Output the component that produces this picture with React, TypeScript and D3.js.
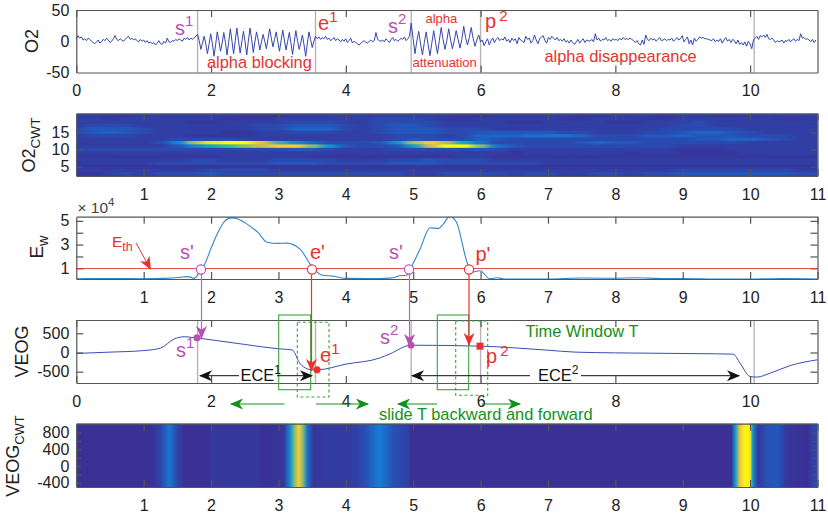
import React, { useEffect, useRef } from 'react';
import * as d3 from 'd3';

// --- panel data ---
const o2SegmentEdges = [0, 1.8, 3.55, 4.97, 6.0, 10.05, 11];
const o2Rest1 = [3, 9, 5, 7, 2, 4, 1, 5, 3, 0, -2, -4, -1, 2, -3, -1, 3, 1, 5, 2, -2, 0, 4, 9, 3, 1, 4, 2, 0, 3, 6, 8, 3, 5, 2, 4, 1, -1, 3, 0, 2, -2, 1, -3, -1, -4, -2, -6, -3, 1, -4, -5, 0, -3, 5, -1, -2, 1, 0, 3, 1, 4, 2, 0, 5, 3, 6, 2, 5, 3, 6, 8];
const o2Alpha1 = [11, 1, -13, -3, 8, -4, -20, -5, 12, -3, -24, -6, 15, 1, -16, -3, 14, -2, -22, -1, 20, 0, -20, 1, 21, 0, -19, -1, 16, -1, -22, 0, 21, 3, -18, -1, 15, 2, -14, -1, 11, 0, -12, 4, 20, 5, -9, 3, 15, -1, -16, 1, 18, 2, -14, 0, 14, -3, -21, -2, 17, 1, -13, -3, 10, -6, -24, -4, 15, 3, -10, 0];
const o2Rest2 = [8, 4, 7, 3, 6, 4, 8, 3, 5, 1, 3, 6, 1, 4, 2, -1, 3, 0, 4, -2, 1, 5, -3, 0, -2, -4, -6, -3, -1, 1, -2, -3, 0, 2, -1, 1, 14, 3, 1, 0, 2, -1, 4, 1, -2, 3, 6, 1, 3, 0, 2, 5, 3, 7, 1, 4, 8];
const o2Alpha2 = [29, 5, -20, 0, 16, -4, -22, -2, 15, -5, -23, -3, 17, -2, -20, 1, 22, 3, -13, 1, 20, 2, -12, 2, 17, 3, -11, 3, 24, 6, -6, 6, 22, 5, -8, 2, 10];
const o2Rest3 = [-1, 2, -7, -1, 4, -6, 1, 5, -2, 3, 6, 1, 4, 2, 7, 0, 3, -2, 5, 1, 4, -4, 6, 2, 0, -2, 8, 3, 5, -3, 1, 10, 2, -4, 4, 7, 9, 1, -3, 6, 3, 8, 5, 2, 6, 1, 3, 0, 4, -1, 1, -3, 2, -2, -5, -1, 3, -3, 1, 4, -2, 2, 1, 0, 3, -1, 12, 2, 5, 0, 3, 2, 6, 1, 3, 0, 4, 2, 3, 1, 5, 2, 6, 3, 4, 3, 5, 3, 1, -2, 1, -4, -6, 2, -5, 10, 3, 1, 5, 2, 4, 0, 3, 6, 1, 2, 4, 1, 3, 2, 5, 0, 3, 6, 2, 4, 9, -1, 3, 7, -4, 2, -6, 5, 0, 3, 7, 5, 6, 4, 4, 3, 2, 1, 4, -1, 2, 0, 4, -3, 2, 6, 0, 3, -2, 3, 1, -4, 2, -5, -2, -6, -1, -8, 0, -4, -12];
const o2Rest4 = [2, 5, 8, 3, 9, 7, 10, 6, 11, 4, 3, 5, 2, -2, 1, -1, 0, 2, -3, 1, 0, 3, -1, 2, 4, 0, 3, 1, 12, 5, 6, 3, 4, 2, -1, 3, -2, 2];

const o2CwtFreqs = [20, 19, 18, 17, 16, 15, 14, 13, 12, 11, 10, 9, 8, 7, 6, 5, 4, 3];
const cwtColumnStep = 0.25;
const o2CwtRows = [
  [2, 2, 1, 1, 2, 2, 2, 2, 2, 2, 1, 1, 1, 2, 2, 2, 2, 2, 2, 2, 2, 2, 2, 1, 1, 2, 2, 2, 2, 2, 1, 1, 2, 2, 2, 1, 2, 2, 1, 1, 2, 2, 2, 2, 2],
  [2, 2, 1, 2, 2, 2, 2, 2, 2, 1, 1, 1, 2, 2, 2, 2, 2, 2, 3, 3, 3, 2, 1, 1, 2, 2, 2, 2, 2, 1, 1, 2, 2, 2, 1, 1, 2, 2, 2, 2, 2, 2, 1, 1, 2],
  [2, 2, 2, 2, 2, 2, 2, 1, 1, 2, 2, 2, 2, 3, 3, 3, 2, 2, 3, 3, 3, 3, 2, 2, 2, 2, 1, 1, 2, 2, 2, 2, 1, 1, 2, 2, 2, 3, 2, 2, 2, 2, 2, 2, 2],
  [2, 3, 3, 3, 2, 2, 2, 2, 2, 2, 2, 3, 3, 4, 4, 4, 3, 2, 3, 4, 4, 3, 2, 2, 2, 2, 2, 2, 2, 2, 2, 2, 2, 2, 2, 2, 3, 3, 2, 2, 2, 2, 2, 2, 2],
  [3, 4, 4, 4, 3, 2, 2, 2, 2, 2, 2, 3, 3, 5, 5, 5, 3, 2, 3, 4, 4, 4, 3, 3, 3, 2, 2, 2, 2, 2, 2, 2, 2, 2, 2, 3, 3, 3, 3, 3, 2, 2, 2, 2, 2],
  [3, 4, 5, 4, 3, 2, 2, 2, 2, 1, 1, 2, 2, 3, 3, 3, 2, 2, 3, 4, 4, 4, 3, 3, 4, 4, 4, 4, 4, 3, 3, 2, 2, 2, 3, 3, 4, 5, 5, 4, 3, 2, 2, 2, 2],
  [2, 3, 3, 3, 2, 2, 2, 1, 1, 1, 1, 2, 2, 2, 2, 2, 2, 2, 2, 3, 3, 3, 2, 3, 5, 5, 5, 6, 6, 6, 5, 3, 3, 3, 4, 4, 5, 4, 4, 4, 3, 3, 3, 2, 2],
  [2, 2, 2, 2, 2, 2, 3, 3, 3, 3, 2, 2, 2, 2, 2, 2, 2, 2, 2, 3, 4, 3, 3, 3, 5, 4, 3, 3, 3, 3, 3, 3, 3, 3, 3, 3, 3, 4, 4, 5, 5, 4, 3, 2, 2],
  [2, 2, 2, 2, 2, 3, 7, 15, 19, 20, 20, 17, 12, 8, 5, 3, 3, 3, 4, 8, 15, 18, 15, 10, 6, 3, 3, 3, 3, 3, 4, 5, 4, 4, 3, 3, 3, 3, 3, 3, 2, 2, 2, 2, 2],
  [2, 2, 2, 2, 2, 2, 4, 7, 10, 12, 14, 16, 18, 18, 14, 9, 4, 3, 3, 4, 9, 16, 20, 20, 14, 6, 4, 3, 3, 3, 3, 3, 3, 3, 3, 3, 2, 2, 2, 2, 2, 2, 2, 2, 2],
  [3, 3, 3, 3, 3, 3, 3, 3, 3, 3, 3, 3, 3, 4, 4, 3, 2, 2, 2, 3, 3, 3, 3, 3, 4, 3, 2, 2, 2, 2, 2, 2, 2, 2, 2, 2, 1, 1, 1, 2, 2, 2, 2, 2, 2],
  [2, 2, 2, 2, 2, 2, 2, 2, 2, 2, 2, 2, 2, 2, 2, 2, 2, 2, 2, 2, 2, 2, 2, 2, 2, 2, 1, 2, 2, 2, 2, 2, 2, 1, 2, 2, 1, 1, 1, 1, 2, 2, 2, 2, 2],
  [1, 1, 1, 1, 1, 1, 1, 1, 1, 2, 2, 2, 2, 2, 1, 1, 1, 1, 1, 1, 1, 1, 1, 2, 2, 1, 1, 1, 1, 1, 1, 1, 1, 1, 1, 1, 1, 1, 1, 1, 1, 1, 1, 1, 1],
  [2, 2, 2, 2, 2, 2, 2, 3, 3, 2, 2, 2, 3, 3, 3, 3, 2, 2, 2, 3, 3, 4, 3, 3, 3, 2, 2, 2, 2, 2, 2, 2, 2, 2, 2, 2, 2, 2, 2, 2, 2, 2, 2, 2, 2],
  [1, 2, 2, 2, 2, 3, 3, 3, 3, 3, 3, 3, 4, 4, 4, 3, 3, 3, 3, 4, 4, 4, 3, 3, 3, 3, 3, 3, 2, 2, 2, 2, 2, 2, 2, 2, 2, 2, 2, 2, 2, 2, 2, 2, 2],
  [1, 1, 1, 1, 1, 1, 1, 1, 1, 1, 1, 1, 1, 1, 1, 1, 1, 1, 1, 1, 1, 1, 1, 1, 1, 1, 1, 1, 1, 1, 1, 1, 1, 1, 1, 1, 1, 1, 1, 1, 1, 1, 1, 1, 1],
  [2, 2, 2, 2, 2, 2, 2, 2, 3, 3, 3, 3, 2, 2, 2, 2, 2, 2, 2, 2, 2, 2, 2, 2, 2, 2, 2, 2, 2, 2, 2, 2, 2, 2, 2, 2, 3, 3, 3, 3, 3, 3, 3, 2, 2],
  [1, 1, 2, 3, 2, 3, 3, 3, 4, 3, 3, 3, 3, 3, 3, 3, 3, 3, 3, 3, 2, 2, 3, 3, 3, 3, 2, 3, 3, 2, 2, 3, 3, 2, 3, 3, 4, 4, 4, 4, 4, 4, 4, 3, 3],
];

const ewTimes = [0, 0.5, 1, 1.3, 1.55, 1.63, 1.7, 1.74, 1.79, 1.85, 1.9, 2, 2.1, 2.2, 2.3, 2.4, 2.5, 2.7, 2.83, 3.0, 3.12, 3.32, 3.49, 3.58, 3.64, 3.81, 4.01, 4.5, 4.7, 4.8, 4.9, 4.97, 5.1, 5.25, 5.37, 5.45, 5.54, 5.64, 5.81, 5.89, 5.99, 6.14, 6.25, 6.35, 7, 7.5, 8, 8.3, 8.7, 9, 9.5, 10, 10.5, 11];
const ewValues = [0.12, 0.14, 0.12, 0.15, 0.25, 0.3, 0.26, 0.15, 0.35, 1, 1.3, 2.7, 4.0, 4.95, 5.25, 5.15, 4.85, 4.0, 3.2, 3.1, 3.12, 2.62, 1.2, 0.65, 0.44, 0.34, 0.15, 0.13, 0.2, 0.38, 0.42, 1.1, 2.6, 4.42, 4.35, 4.75, 5.4, 4.9, 1.35, 0.7, 0.8, 0.12, 0.2, 0.1, 0.1, 0.18, 0.16, 0.2, 0.14, 0.14, 0.1, 0.1, 0.14, 0.1];
const ewThreshold = 0.98;

const veogTimes = [0, 0.5, 1, 1.25, 1.45, 1.6, 1.75, 2, 2.5, 3, 3.2, 3.25, 3.3, 3.4, 3.5, 3.58, 4, 4.5, 4.65, 4.97, 6, 7, 7.4, 8, 9.5, 9.75, 9.85, 10, 10.1, 10.3, 10.6, 11];
const veogValues = [-25, 10, 50, 115, 350, 410, 385, 330, 210, 96, 70, -40, -235, -400, -450, -450, -303, -145, -40, 190, 165, 60, 10, -10, -35, -45, -276, -625, -640, -536, -338, -190];

const veogBandTimes = [0, 1.12, 1.25, 1.38, 1.5, 1.6, 1.95, 2.0, 2.7, 2.75, 3.08, 3.17, 3.24, 3.3, 3.36, 3.43, 3.52, 3.7, 4.05, 4.15, 4.3, 4.5, 4.7, 4.93, 4.97, 9.72, 9.78, 9.85, 9.93, 10.0, 10.04, 10.12, 10.25, 10.4, 10.55, 10.85, 10.95, 11];
const veogBandValues = [0, 0, 0.07, 0.22, 0.07, 0, 0, 0.025, 0.025, 0, 0.02, 0.28, 0.62, 0.88, 0.62, 0.2, 0.02, 0.035, 0.035, 0.05, 0.11, 0.24, 0.11, 0.05, 0, 0, 0.35, 0.85, 1, 0.95, 0.3, 0.02, 0.11, 0.13, 0.02, 0, 0.07, 0.07];

const x2Ticks = [0, 2, 4, 6, 8, 10];
const x1Ticks = [1, 2, 3, 4, 5, 6, 7, 8, 9, 10, 11];
const o2Ticks = [-50, 0, 50];
const o2CwtTicks = [5, 10, 15];
const ewTicks = [1, 2, 3, 4, 5];
const ewLabels = [1, 3, 5];
const veogTicks = [-500, 0, 500];
const veogCwtTicks = [-400, -200, 0, 200, 400, 600, 800];
const veogCwtLabels = [-400, 0, 400, 800];
const stageLines = [1.8, 3.55, 4.97, 6.0, 10.06];

const parula = ['#3a3096', '#2456bb', '#1481d6', '#06a4ca', '#2eb7a4', '#87bf77', '#d1bb59', '#fec832', '#f9fb0e'];

const FONT = '"Liberation Sans", Arial, sans-serif';
const RED = '#e8322f';
const MAGENTA = '#b94fb5';
const GREEN = '#12901c';

export default function App() {
  const ref = useRef<SVGSVGElement>(null);

  useEffect(() => {
    const svg = d3.select(ref.current);
    svg.selectAll('*').remove();

    const left = 76.3, right = 817.5;
    const x = d3.scaleLinear().domain([0, 11]).range([left, right]);
    const parulaColor = d3.scaleLinear<string>()
      .domain(parula.map((_, i) => i / (parula.length - 1)))
      .range(parula);

    const defs = svg.append('defs');
    const addMarker = (id, color) => {
      defs.append('marker')
        .attr('id', id)
        .attr('viewBox', '0 0 12 10')
        .attr('refX', 11).attr('refY', 5)
        .attr('markerWidth', 14).attr('markerHeight', 11)
        .attr('markerUnits', 'userSpaceOnUse')
        .attr('orient', 'auto-start-reverse')
        .append('path')
        .attr('d', 'M0,0L12,5L0,10L3.5,5Z')
        .attr('fill', color);
    };
    addMarker('arrowMagenta', MAGENTA);
    addMarker('arrowRed', RED);
    addMarker('arrowBlack', '#111');
    addMarker('arrowGreen', GREEN);

    const blur = defs.append('filter')
      .attr('id', 'cwtBlur')
      .attr('color-interpolation-filters', 'sRGB')
      .attr('x', '-5%').attr('y', '-10%').attr('width', '110%').attr('height', '120%');
    blur.append('feGaussianBlur').attr('stdDeviation', '5 0.6');

    const drawAxes = (top, bottom, yScale, xTicks, yTicks, yLabels, tickLen, leftLen = tickLen) => {
      const g = svg.append('g');
      const label = (v) => (yLabels.includes(v) ? String(v) : '');
      g.append('g').attr('transform', `translate(0,${bottom})`)
        .call(d3.axisBottom(x).tickValues(xTicks).tickSizeInner(-7).tickSizeOuter(0).tickPadding(12.5).tickFormat(String as any));
      g.append('g').attr('transform', `translate(0,${top})`)
        .call(d3.axisTop(x).tickValues(xTicks).tickSizeInner(-7).tickSizeOuter(0).tickFormat(() => ''));
      g.append('g').attr('transform', `translate(${left},0)`)
        .call(d3.axisLeft(yScale).tickValues(yTicks).tickSizeInner(-leftLen).tickSizeOuter(0).tickPadding(7).tickFormat(label as any));
      g.append('g').attr('transform', `translate(${right},0)`)
        .call(d3.axisRight(yScale).tickValues(yTicks).tickSizeInner(-tickLen).tickSizeOuter(0).tickFormat(() => ''));
      g.selectAll('text').attr('font-family', FONT).attr('font-size', 16).attr('fill', '#222');
      g.selectAll('line,.domain').attr('stroke', '#555').attr('stroke-width', 1.2);
      return g;
    };

    const yTitle = (tx, ty, text, sub = '', size = 18, subScale = 0.76) => {
      const t = svg.append('text')
        .attr('transform', `translate(${tx},${ty}) rotate(-90)`)
        .attr('text-anchor', 'middle')
        .attr('font-family', FONT).attr('font-size', size).attr('fill', '#222');
      t.append('tspan').text(text);
      if (sub) t.append('tspan').attr('dy', 5).attr('font-size', size * subScale).text(sub);
    };

    // text with an optional raised or lowered small part
    const note = (tx, ty, color, size, text, extra = '', extraDy = -8, extraSize = size * 0.72, gap = 0) => {
      const t = svg.append('text').attr('x', tx).attr('y', ty)
        .attr('font-family', FONT).attr('font-size', size).attr('fill', color);
      t.append('tspan').text(text);
      if (extra) t.append('tspan').attr('dx', gap).attr('dy', extraDy).attr('font-size', extraSize).text(extra);
    };

    const stage = (top, bottom, times) => {
      svg.append('g').selectAll('line').data(times).join('line')
        .attr('x1', (d: number) => x(d)).attr('x2', (d: number) => x(d))
        .attr('y1', top).attr('y2', bottom)
        .attr('stroke', '#b5b5b5').attr('stroke-width', 1.4);
    };

    // --- O2 ---
    const o2Y = d3.scaleLinear().domain([-50, 50]).range([72.5, 10]);
    const segments = [o2Rest1, o2Alpha1, o2Rest2, o2Alpha2, o2Rest3, o2Rest4];
    const o2Points = segments.flatMap((vals, s) => {
      const a = o2SegmentEdges[s], b = o2SegmentEdges[s + 1];
      return vals.map((v, i) => [a + (i * (b - a)) / vals.length, v]);
    });
    stage(10, 72.5, stageLines);
    svg.append('path')
      .attr('d', d3.line().x((d) => x(d[0])).y((d) => o2Y(d[1]))(o2Points as any))
      .attr('fill', 'none').attr('stroke', '#3546ab').attr('stroke-width', 1);
    drawAxes(10, 72.5, o2Y, x2Ticks, o2Ticks, o2Ticks, 0);
    yTitle(38, 41, 'O2');

    note(175, 35, MAGENTA, 20, 's', '1', -9, 15);
    note(318, 30, RED, 20, 'e', '1', -8, 15);
    note(388, 33, MAGENTA, 20, 's', '2', -9, 15);
    note(485, 28, RED, 20, 'p', '2', -7, 15, 3);
    note(425.5, 23, RED, 13, 'alpha');
    note(412.5, 66.5, RED, 13, 'attenuation');
    note(207, 67.5, RED, 16.4, 'alpha blocking');
    note(544.5, 61.5, RED, 16.4, 'alpha disappearance');

    // --- O2 CWT ---
    const cwtY = d3.scaleLinear().domain([2.3, 20.5]).range([176, 113.5]);
    const cwtShade = d3.scalePow().exponent(1.3).domain([0, 20]).range([0, 1]);
    svg.append('clipPath').attr('id', 'cwtClip').append('rect')
      .attr('x', left).attr('y', 113.5).attr('width', right - left).attr('height', 62.5);
    const cwtClip = svg.append('g').attr('clip-path', 'url(#cwtClip)');
    cwtClip.append('rect').attr('x', left).attr('y', 113.5).attr('width', right - left).attr('height', 62.5)
      .attr('fill', parulaColor(0.07));
    const cwtCells = o2CwtRows.flatMap((row, r) => row.map((v, c) => ({ t: c * cwtColumnStep, f: o2CwtFreqs[r], v })));
    cwtClip.append('g').attr('filter', 'url(#cwtBlur)')
      .selectAll('rect').data(cwtCells).join('rect')
      .attr('x', (d) => x(d.t - cwtColumnStep / 2))
      .attr('width', x(cwtColumnStep) - x(0) + 0.5)
      .attr('y', (d) => cwtY(d.f + 0.5))
      .attr('height', cwtY(0) - cwtY(1) + 0.5)
      .attr('fill', (d) => parulaColor(cwtShade(d.v)));
    drawAxes(113.5, 176, cwtY, x1Ticks, o2CwtTicks, o2CwtTicks, 7);
    yTitle(35, 145, 'O2', 'CWT');

    // --- Ew ---
    const ewY = d3.scaleLinear().domain([0.1, 5.35]).range([279, 216.7]);
    const clipEw = svg.append('clipPath').attr('id', 'ewClip');
    clipEw.append('rect').attr('x', left).attr('y', 216.7).attr('width', right - left).attr('height', 62.3);
    const ewPoints = ewTimes.map((t, i) => [t, ewValues[i]]);
    svg.append('path')
      .attr('clip-path', 'url(#ewClip)')
      .attr('d', d3.line().curve(d3.curveMonotoneX).x((d) => x(d[0])).y((d) => ewY(d[1]))(ewPoints as any))
      .attr('fill', 'none').attr('stroke', '#2f85c6').attr('stroke-width', 1.1);
    drawAxes(216.7, 279, ewY, x1Ticks, ewTicks, ewLabels, 7);
    svg.append('line')
      .attr('x1', left).attr('x2', right).attr('y1', ewY(ewThreshold)).attr('y2', ewY(ewThreshold))
      .attr('stroke', RED).attr('stroke-width', 0.9);
    yTitle(43, 247, 'E', 'w', 19);

    const t10 = svg.append('text').attr('x', 77.5).attr('y', 213).attr('font-family', FONT).attr('font-size', 15.5).attr('fill', '#444');
    t10.append('tspan').text('× 10');
    t10.append('tspan').attr('dy', -7).attr('font-size', 11.5).text('4');

    note(112, 247, RED, 15.5, 'E', 'th', 4, 12.5);
    svg.append('line').attr('x1', 136).attr('y1', 243).attr('x2', 150.5).attr('y2', 269)
      .attr('stroke', RED).attr('stroke-width', 1).attr('marker-end', 'url(#arrowRed)');
    note(180, 259, MAGENTA, 20, "s'");
    note(310, 259, RED, 20, "e'");
    note(389, 259, MAGENTA, 20, "s'");
    note(475.5, 261, RED, 20, "p'");

    // --- VEOG ---
    const veogY = d3.scaleLinear().domain([-794, 846]).range([383, 320]);
    const veogPoints = veogTimes.map((t, i) => [t, veogValues[i]]);
    stage(320, 383, stageLines);
    svg.append('path')
      .attr('d', d3.line().curve(d3.curveMonotoneX).x((d) => x(d[0])).y((d) => veogY(d[1]))(veogPoints as any))
      .attr('fill', 'none').attr('stroke', '#3a4db3').attr('stroke-width', 1);
    drawAxes(320, 383, veogY, x2Ticks, veogTicks, veogTicks, 7);
    yTitle(28, 351.5, 'VEOG');

    // window boxes
    const boxes = svg.append('g').attr('fill', 'none').attr('stroke', '#3aa53a').attr('stroke-width', 1.1);
    boxes.append('rect').attr('x', 278.7).attr('y', 315).attr('width', 32).attr('height', 74.7);
    boxes.append('rect').attr('x', 297.3).attr('y', 322.3).attr('width', 31.7).attr('height', 74.7).attr('stroke-dasharray', '3 2.5');
    boxes.append('rect').attr('x', 437.3).attr('y', 315).attr('width', 31.4).attr('height', 74.7);
    boxes.append('rect').attr('x', 455.7).attr('y', 321).attr('width', 32).attr('height', 74.3).attr('stroke-dasharray', '3 2.5');

    // connectors from the Ew crossings down to VEOG
    const link = (lx, y1, y2, color, marker) => svg.append('line')
      .attr('x1', lx).attr('x2', lx).attr('y1', y1).attr('y2', y2)
      .attr('stroke', color).attr('stroke-width', 1.2).attr('marker-end', `url(#${marker})`);
    link(201.5, 274, 338, '#c565c2', 'arrowMagenta');
    link(311.5, 275, 371, RED, 'arrowRed');
    link(409.5, 274, 346, '#c565c2', 'arrowMagenta');
    link(469, 274, 345, RED, 'arrowRed');

    const crossings = [[201, MAGENTA], [312, RED], [409, MAGENTA], [469, RED]];
    svg.append('g').selectAll('circle').data(crossings).join('circle')
      .attr('cx', (d) => d[0]).attr('cy', 269.5).attr('r', 4.6)
      .attr('fill', '#fff').attr('stroke', (d) => d[1]).attr('stroke-width', 1.1);

    // stage points on VEOG
    svg.append('circle').attr('cx', 197).attr('cy', veogY(383)).attr('r', 3.6).attr('fill', MAGENTA);
    svg.append('circle').attr('cx', 317).attr('cy', veogY(-450)).attr('r', 3.6).attr('fill', RED);
    svg.append('circle').attr('cx', 411).attr('cy', veogY(190)).attr('r', 3.4).attr('fill', MAGENTA);
    svg.append('rect').attr('x', 476.5).attr('y', veogY(165) - 3.5).attr('width', 7).attr('height', 7).attr('fill', RED);

    note(176, 356.5, MAGENTA, 20, 's', '1', -9, 15);
    note(320, 361.5, RED, 20, 'e', '1', -8, 15);
    note(380, 344, MAGENTA, 20, 's', '2', -9, 15);
    note(486, 363, RED, 20, 'p', '2', -7, 15, 3);

    // ECE spans
    const span = (x1, x2, head) => svg.append('line')
      .attr('x1', x1).attr('x2', x2).attr('y1', 375.7).attr('y2', 375.7)
      .attr('stroke', '#111').attr('stroke-width', 1)
      .attr(head, 'url(#arrowBlack)');
    span(200, 239, 'marker-start');
    span(277, 312, 'marker-end');
    span(412, 530, 'marker-start');
    span(581, 739, 'marker-end');
    note(240.5, 381, '#111', 16.4, 'ECE', '1', -7, 12);
    note(538, 381, '#111', 16.4, 'ECE', '2', -7, 12);

    // sliding arrows
    const slide = (x1, x2) => svg.append('line')
      .attr('x1', x1).attr('x2', x2).attr('y1', 404).attr('y2', 404)
      .attr('stroke', GREEN).attr('stroke-width', 1.1).attr('marker-end', 'url(#arrowGreen)');
    slide(284.5, 231);
    slide(316, 368);
    slide(437, 398);
    slide(482, 520);
    note(525.5, 336.5, GREEN, 16.4, 'Time Window T');
    note(379, 420, GREEN, 16.4, 'slide T backward and forward');

    // --- VEOG CWT ---
    const bandY = d3.scaleLinear().domain([-503, 1016]).range([487, 423.7]);
    const grad = defs.append('linearGradient').attr('id', 'veogBands');
    grad.selectAll('stop').data(veogBandTimes).join('stop')
      .attr('offset', (d: number) => d / 11)
      .attr('stop-color', (_, i) => parulaColor(veogBandValues[i]));
    svg.append('rect').attr('x', left).attr('y', 423.7).attr('width', right - left).attr('height', 63.3)
      .attr('fill', 'url(#veogBands)');
    drawAxes(423.7, 487, bandY, x1Ticks, veogCwtTicks, veogCwtLabels, 5);
    yTitle(19, 456, 'VEOG', 'CWT', 18, 0.72);
  }, []);

  return (
    <svg
      ref={ref}
      width={828}
      height={513}
      style={{ position: 'absolute', left: 0, top: 0, background: '#fff' }}
    />
  );
}
